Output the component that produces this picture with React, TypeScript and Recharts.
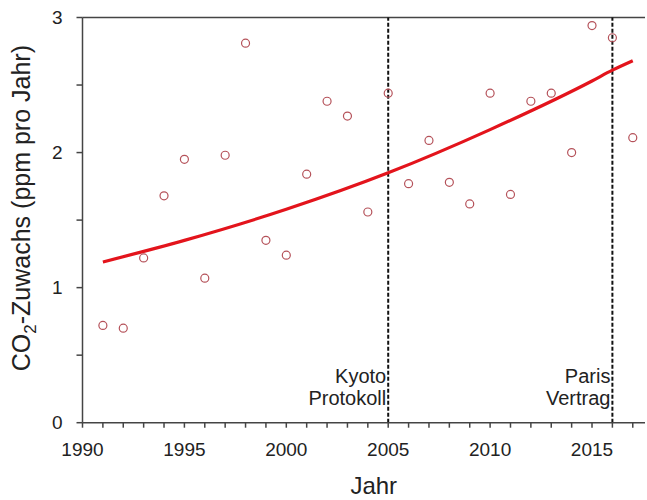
import React from "react";
import {
  ComposedChart,
  Scatter,
  Line,
  XAxis,
  YAxis,
  ReferenceLine,
} from "recharts";

const years = [
  1991, 1992, 1993, 1994, 1995, 1996, 1997, 1998, 1999, 2000, 2001, 2002, 2003,
  2004, 2005, 2006, 2007, 2008, 2009, 2010, 2011, 2012, 2013, 2014, 2015, 2016,
  2017,
];
const growth = [
  0.72, 0.7, 1.22, 1.68, 1.95, 1.07, 1.98, 2.81, 1.35, 1.24, 1.84, 2.38, 2.27,
  1.56, 2.44, 1.77, 2.09, 1.78, 1.62, 2.44, 1.69, 2.38, 2.44, 2.0, 2.94, 2.85,
  2.11,
];
const trendYears = [1991, 1995, 2000, 2005, 2010, 2015, 2016, 2017];
const trendValues = [1.19, 1.35, 1.58, 1.85, 2.17, 2.53, 2.61, 2.68];
const xTicks = [
  1990, 1991, 1992, 1993, 1994, 1995, 1996, 1997, 1998, 1999, 2000, 2001, 2002,
  2003, 2004, 2005, 2006, 2007, 2008, 2009, 2010, 2011, 2012, 2013, 2014, 2015,
  2016, 2017,
];
const yTicks = [0, 0.5, 1, 1.5, 2, 2.5, 3];
const events = [
  { year: 2005, lines: ["Kyoto", "Protokoll"] },
  { year: 2016, lines: ["Paris", "Vertrag"] },
];

const points = years.map((y, i) => ({ year: y, v: growth[i] }));
const trend = trendYears.map((y, i) => ({ year: y, t: trendValues[i] }));

const FONT = "'Liberation Sans', Arial, Helvetica, sans-serif";
const AXIS = "#444";

const Circle = (props: any) => {
  const { cx, cy } = props;
  if (cx == null || cy == null) return null;
  return (
    <circle cx={cx} cy={cy} r={4} fill="none" stroke="#b5525a" strokeWidth={1.2} />
  );
};

const EventLabel = (lines: string[]) => (props: any) => {
  const vb = props.viewBox || {};
  const x = vb.x - 2;
  const bottom = vb.y + vb.height;
  return (
    <g>
      <text x={x} y={bottom - 40} textAnchor="end" fontSize={20} fontFamily={FONT} fill="#222">
        {lines[0]}
      </text>
      <text x={x} y={bottom - 18} textAnchor="end" fontSize={20} fontFamily={FONT} fill="#222">
        {lines[1]}
      </text>
    </g>
  );
};

const YLabel = (props: any) => {
  const vb = props.viewBox || {};
  const cx = vb.x + 30;
  const cy = vb.y + vb.height / 2 - 12;
  return (
    <text
      x={cx}
      y={cy}
      transform={`rotate(-90 ${cx} ${cy})`}
      textAnchor="middle"
      fontSize={25}
      fontFamily={FONT}
      fill="#222"
    >
      <tspan>CO</tspan>
      <tspan fontSize={17} dy={6}>2</tspan>
      <tspan dy={-6}>-Zuwachs (ppm pro Jahr)</tspan>
    </text>
  );
};

const XLabel = (props: any) => {
  const vb = props.viewBox || {};
  const cx = vb.x + vb.width / 2 + 10;
  return (
    <text x={cx} y={vb.y + 71} textAnchor="middle" fontSize={24} fontFamily={FONT} fill="#222">
      Jahr
    </text>
  );
};

export default function App() {
  return (
    <div style={{ position: "absolute", left: 0, top: 0, background: "#fff" }}>
      <ComposedChart
        width={647}
        height={500}
        margin={{ top: 17.5, right: 2, bottom: 0, left: 0 }}
      >
        <XAxis
          type="number"
          dataKey="year"
          domain={[1990, 2017.6]}
          ticks={xTicks}
          interval={0}
          allowDataOverflow
          height={77.3}
          stroke={AXIS}
          strokeWidth={1.5}
          tickSize={5}
          tickMargin={15}
          tick={{ fontSize: 19, fontFamily: FONT, fill: "#222" }}
          tickFormatter={(v: number) => (v % 5 === 0 ? String(v) : "")}
          label={<XLabel />}
        />
        <YAxis
          type="number"
          domain={[0, 3]}
          ticks={yTicks}
          interval={0}
          allowDataOverflow
          width={82.5}
          stroke={AXIS}
          strokeWidth={1.5}
          tickSize={6}
          tickMargin={14}
          tick={{ fontSize: 19, fontFamily: FONT, fill: "#222" }}
          tickFormatter={(v: number) => (Number.isInteger(v) ? String(v) : "")}
          label={<YLabel />}
        />
        <ReferenceLine y={3} stroke={AXIS} strokeWidth={1.5} />
        {events.map((e) => (
          <ReferenceLine
            key={e.year}
            x={e.year}
            stroke="#111"
            strokeWidth={2}
            strokeDasharray="4 2"
            label={EventLabel(e.lines)}
          />
        ))}
        <Line
          data={trend}
          dataKey="t"
          type="monotone"
          stroke="#e3141c"
          strokeWidth={3.2}
          dot={false}
          isAnimationActive={false}
        />
        <Scatter
          data={points}
          dataKey="v"
          shape={<Circle />}
          isAnimationActive={false}
        />
      </ComposedChart>
    </div>
  );
}
